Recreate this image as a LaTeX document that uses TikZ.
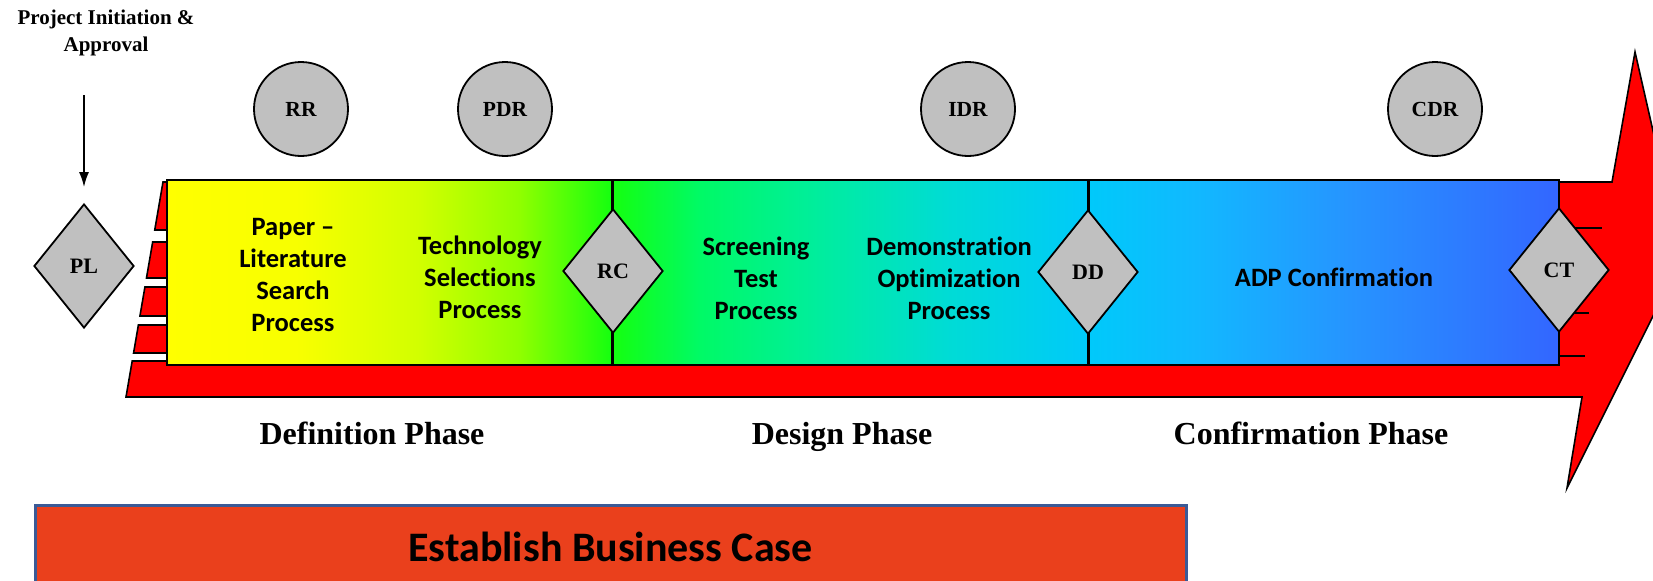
\documentclass[tikz,border=0pt]{standalone}
\usepackage{fontspec}
\usetikzlibrary{shapes.geometric,arrows.meta}
\newfontfamily\bodyfont{Carlito}[Ligatures={TeX,NoCommon}]
\newfontfamily\serifbold{Liberation Serif}

\definecolor{arrowred}{HTML}{FF0000}
\definecolor{gatefill}{HTML}{C0C0C0}
\definecolor{caseorange}{HTML}{EA401C}
\definecolor{boxblue}{HTML}{3B5A96}

% colour run of the process band, yellow -> green -> cyan -> blue
\pgfdeclarehorizontalshading{bandshade}{100bp}{%
  rgb(0bp)=(1,1,0);
  rgb(25bp)=(1,1,0);
  rgb(29.78bp)=(0.97,1,0);
  rgb(34.09bp)=(0.82,1,0);
  rgb(37.68bp)=(0.56,1,0);
  rgb(40.98bp)=(0.08,1,0.06);
  rgb(44.15bp)=(0,0.98,0.40);
  rgb(48.46bp)=(0,0.93,0.62);
  rgb(53.13bp)=(0,0.86,0.84);
  rgb(58.08bp)=(0,0.79,0.98);
  rgb(62.11bp)=(0.07,0.72,1);
  rgb(67.49bp)=(0.15,0.58,1);
  rgb(75bp)=(0.2,0.4,1);
  rgb(100bp)=(0.2,0.4,1)}

\tikzset{
  proc/.style={font=\bodyfont\bfseries\fontsize{13.25pt}{16pt}\selectfont,
    align=center, inner sep=0pt},
  gate/.style={diamond, draw=black, line width=0.9pt, fill=gatefill,
    minimum width=50pt, minimum height=62pt, inner sep=0pt,
    font=\serifbold\bfseries\fontsize{11pt}{13pt}\selectfont},
  review/.style={circle, draw=black, line width=0.9pt, fill=gatefill,
    minimum size=47pt, inner sep=0pt,
    font=\serifbold\bfseries\fontsize{10.75pt}{13pt}\selectfont},
  phase/.style={font=\serifbold\bfseries\fontsize{16pt}{19pt}\selectfont,
    anchor=base, inner sep=0pt},
  band/.style={fill=arrowred, draw=black, line width=0.8pt},
  tick/.style={line width=1pt},
  divider/.style={line width=1.5pt},
}

\begin{document}
\begin{tikzpicture}[x=0.5pt,y=-0.5pt]
\clip (0,0) rectangle (1653,580);
\fill[white] (0,0) rectangle (1653,580);

% red block arrow carrying the process band
\draw[band] (200,182) -- (1612,182) -- (1635,52) -- (1682,258) -- (1567,488)
  -- (1582,397) -- (126,397) -- (132.2,361) -- (200,361) -- cycle;
% separated tail strips on the left end
\foreach \t/\b in {182/230, 242/278, 287/316, 325/353} {
  \draw[band] ({163-37*(\t-182)/215},\t) -- (200,\t) -- (200,\b)
    -- ({163-37*(\b-182)/215},\b) -- cycle;
}
% strip ends showing at the right end
\draw[tick] (1559,228) -- (1602,228);
\draw[tick] (1559,313) -- (1589,313);
\draw[tick] (1559,356) -- (1585,356);

% process band
\shade[shading=bandshade] (167,180) rectangle (1559,365);
\draw[line width=0.9pt] (167,180) rectangle (1559,365);

% phase boundaries
\coordinate (b1top) at (612,180);
\coordinate (b1bot) at (612,365);
\coordinate (b2top) at (1088,180);
\coordinate (b2bot) at (1088,365);
\draw[divider] (b1top) -- (b1bot);
\draw[divider] (b2top) -- (b2bot);

% decision gates
\node[gate] (PL) at (84,266) {PL};
\node[gate] (RC) at (613,271) {RC};
\node[gate] (DD) at (1088,272) {DD};
\node[gate] (CT) at (1559,270) {CT};

% reviews
\node[review] (RR)  at (301,109) {RR};
\node[review] (PDR) at (505,109) {PDR};
\node[review] (IDR) at (968,109) {IDR};
\node[review] (CDR) at (1435,109) {CDR};

% project start
\node[font=\serifbold\bfseries\fontsize{10.5pt}{13.5pt}\selectfont,
  align=center, inner sep=0pt] (init) at (106,33) {Project Initiation \&\\Approval};
\coordinate (startarrow) at (84,95);
\draw[line width=0.9pt, -{Latex[length=7.5pt,width=5pt]}, shorten >=8pt]
  (startarrow) -- (PL.north);

% process steps
\node[proc] (paper)  at (293,275) {Paper –\\Literature\\Search\\Process};
\node[proc] (tech)   at (480,277) {Technology\\Selections\\Process};
\node[proc] (screen) at (756,278) {Screening\\Test\\Process};
\node[proc] (demo)   at (949,278) {Demonstration\\Optimization\\Process};
\node[proc] (adp)    at (1334,277) {ADP Confirmation};

% phase names
\node[phase] (def)     at (372,444) {Definition Phase};
\node[phase] (design)  at (842,444) {Design Phase};
\node[phase] (confirm) at (1311,444) {Confirmation Phase};

% business case bar
\node[draw=boxblue, line width=1.5pt, fill=caseorange, minimum width=575.5pt,
  minimum height=42pt, inner sep=0pt,
  font=\bodyfont\bfseries\fontsize{21pt}{25pt}\selectfont] (case) at (610.5,547)
  {Establish Business Case};
\end{tikzpicture}
\end{document}
